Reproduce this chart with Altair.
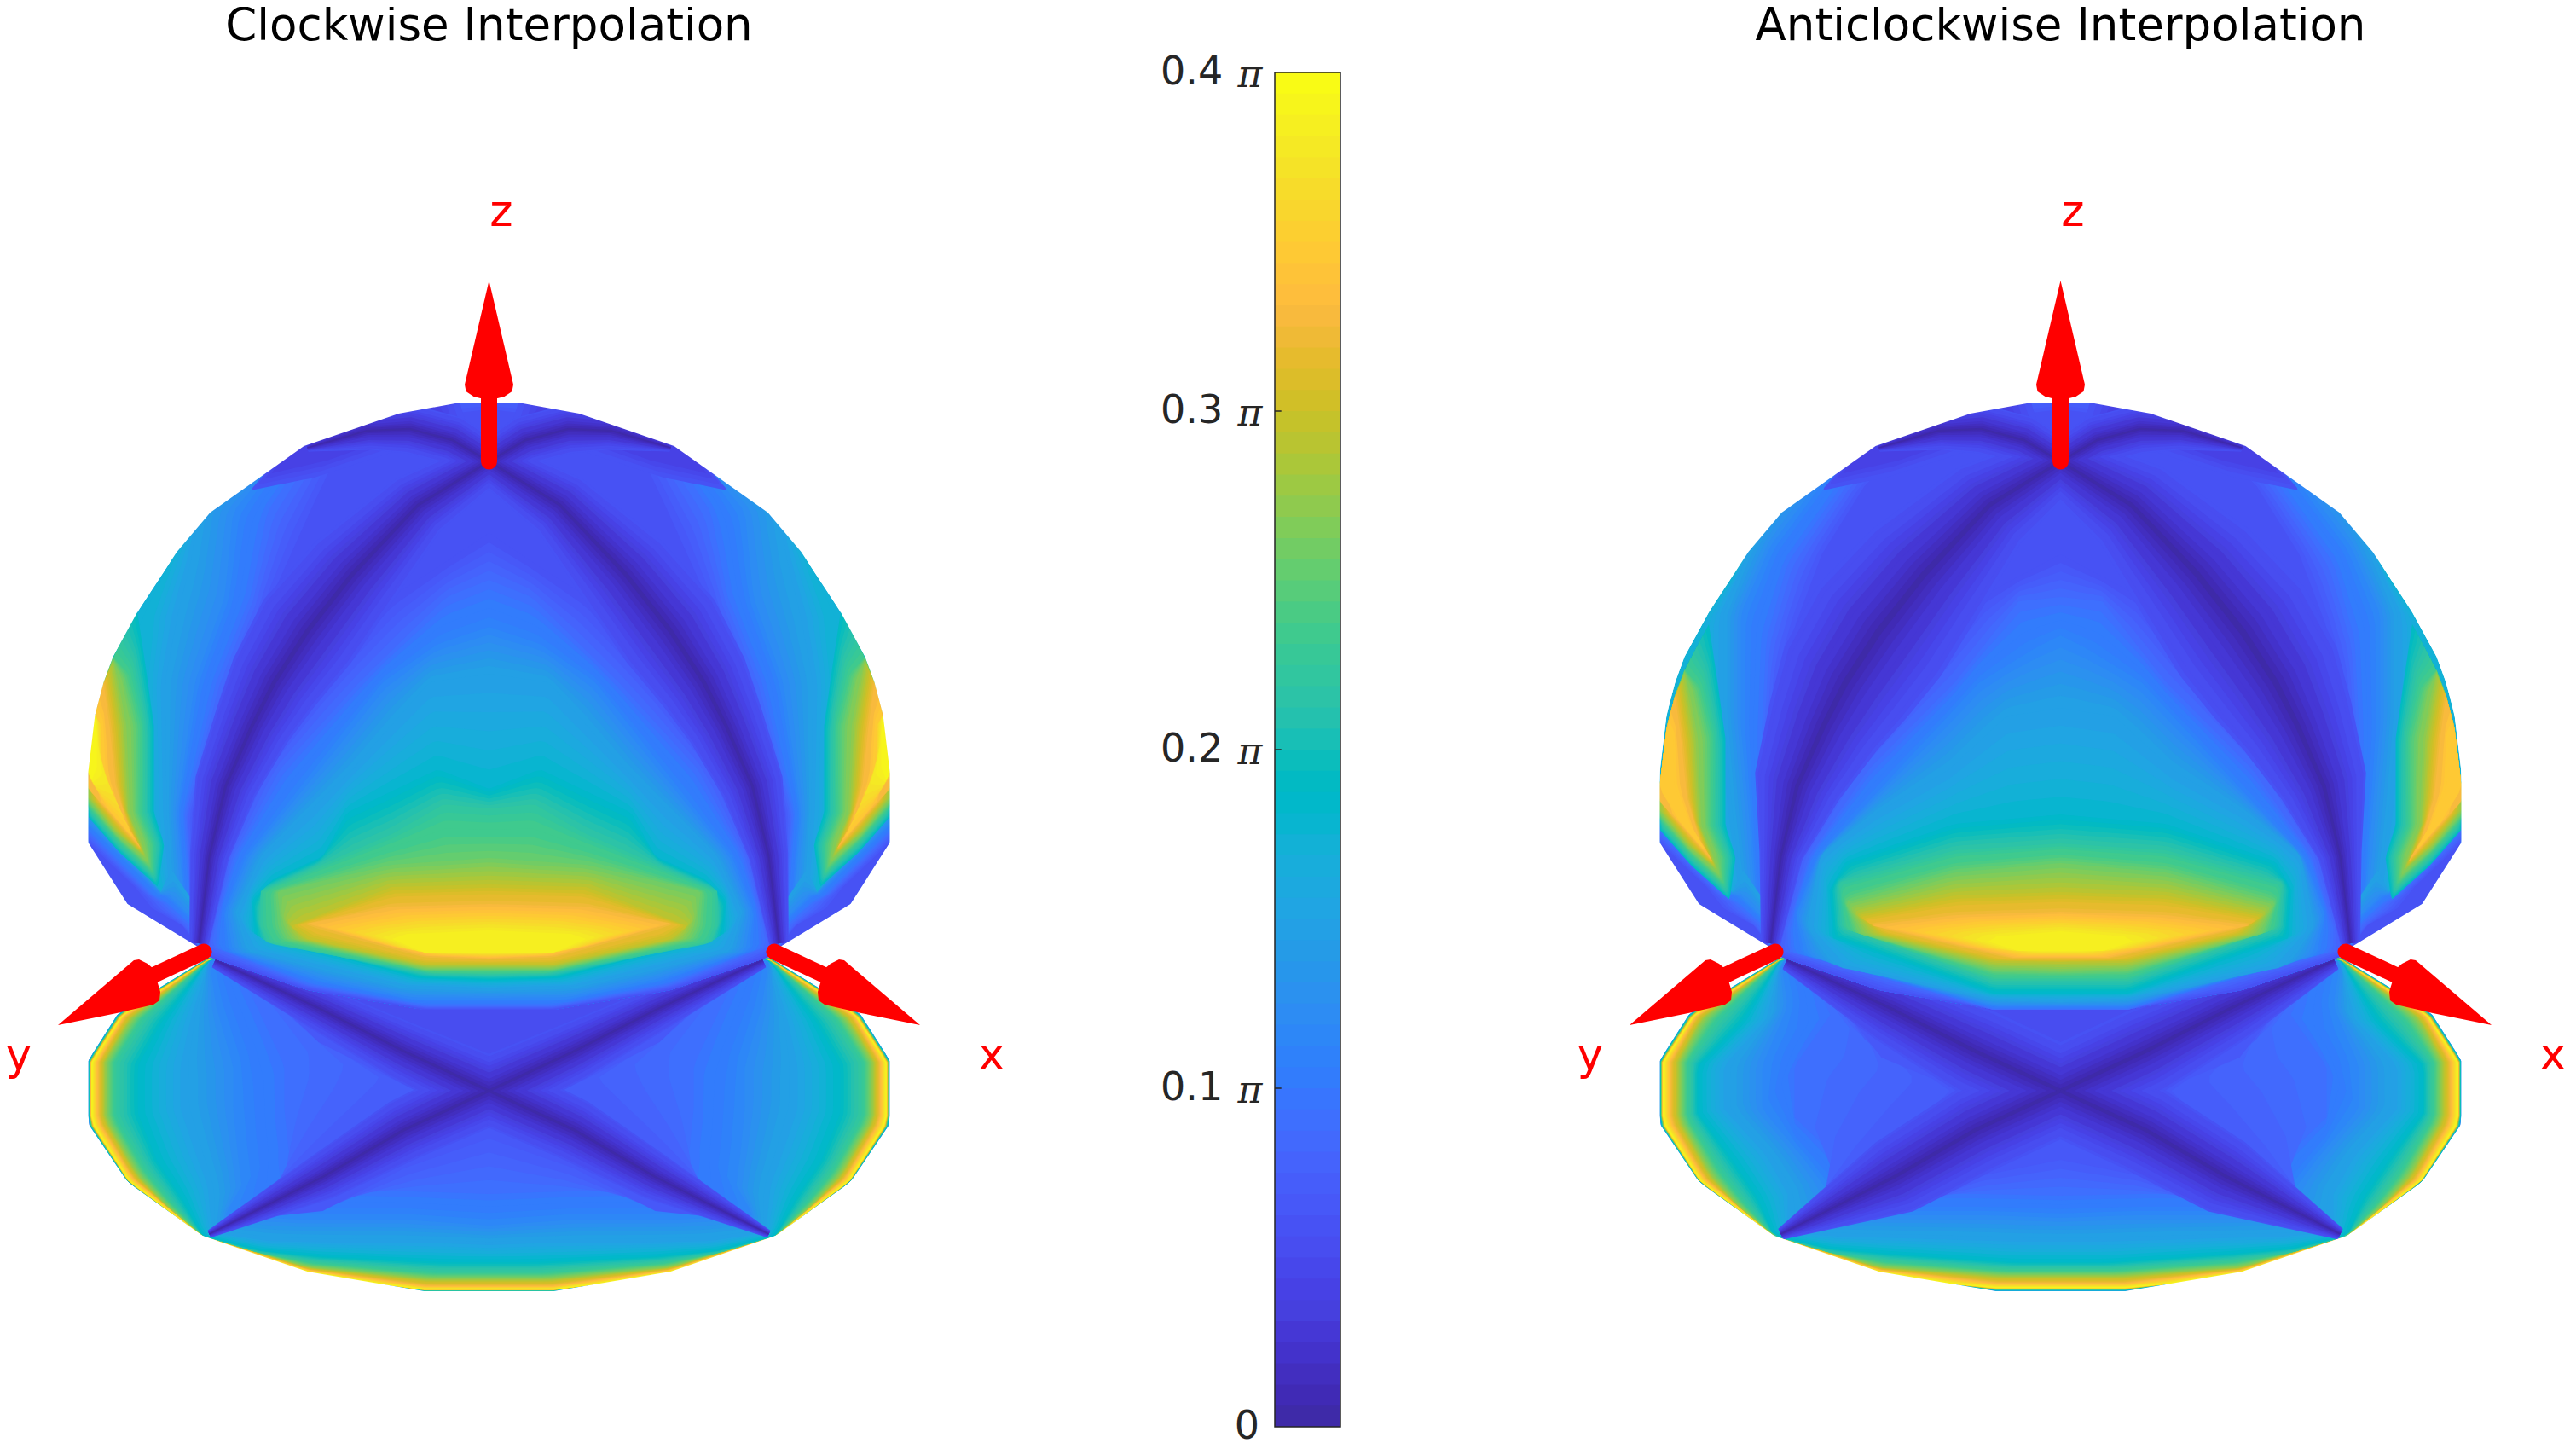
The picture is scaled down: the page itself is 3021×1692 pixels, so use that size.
import altair as alt
import math

PARULA = ["#3e2aa8","#402ab5","#422ebf","#4332cb","#4537d5","#4640de","#4741e5","#4747eb","#484df0","#4752f4","#4758f8","#465dfa","#4563fc","#4269fd","#3e6ffe","#3875fe","#327cfc","#2f81fa","#2d87f7","#2d8cf3","#2b91ef","#2796eb","#259be7","#23a0e5","#20a5e3","#1ca9df","#18addb","#12b1d6","#08b5d0","#01b8ca","#02bac3","#0bbdbc","#18bfb6","#24c1ae","#2cc3a7","#31c69f","#37c897","#3fca8e","#4acb84","#57cc7a","#64cd6f","#72cc64","#80cc59","#8fca4e","#9dc943","#abc739","#b9c431","#c5c22a","#d1bf27","#dcbd29","#e6bb2d","#efba36","#f8ba3d","#febe3c","#fec338","#fec934","#fccf30","#f9d62d","#f7dc2a","#f5e327","#f5e924","#f6ef20","#f7f51b","#f9fb15"]
TICK_VALUES = [0.0, 0.1, 0.2, 0.3, 0.4]
TITLES = ["Clockwise Interpolation", "Anticlockwise Interpolation"]
AXIS_LABELS = ["x", "y", "z"]

VIEW_TOP = 58
PAGE_BOTTOM = 1684
LEFT_W, RIGHT_W, CB_W = 1293, 1376, 77
RIGHT_VIEW_X = 1633
CX = [573.5-8, 2416.5-RIGHT_VIEW_X]
CB_TOP, CB_BOTTOM = 85, 1673
VIEW_H = PAGE_BOTTOM-VIEW_TOP

DOME = [(0,473),(39.5,473),(106,485),(217,523),(327,601),(366,647),(412,717),(441,770),(452,800),(462,838),(470,905),(470,988),(424,1060),(340,1111),(328,1122),(213,1161),(76,1184),(0,1184)]
BOWL = [(0,1120),(328,1122),(435,1188),(470,1243),(470,1318),(424,1386),(336,1449),(213,1491),(76,1514),(0,1514)]
SILHOUETTE = DOME[:15] + BOWL[2:]
RIM = [(340,1111),(328,1122),(213,1161),(76,1184),(0,1184)]
OVER = [(0,460),(39.5,460),(110,470),(226,510),(338,590)]   # top contours run past the edge; the mask trims them

BOWL_TIERS_A = [
 (0.12,BOWL),
 (0.39,[(0,1120),(328,1125),(430,1190),(466,1245),(466,1316),(422,1385),(336,1449),(213,1491),(130,1505),(76,1512),(0,1512)]),
 (0.33,[(0,1120),(328,1125),(428,1192),(459,1245),(459,1314),(418,1382),(336,1449),(213,1489),(76,1508),(0,1508)]),
 (0.27,[(0,1120),(328,1125),(420,1195),(450,1245),(450,1312),(412,1378),(378,1414),(336,1449),(213,1486),(70,1500),(0,1500)]),
 (0.22,[(0,1120),(328,1125),(405,1195),(437,1245),(437,1310),(402,1372),(372,1410),(336,1449),(270,1469),(205,1480),(65,1491),(0,1491)]),
 (0.185,[(0,1120),(328,1125),(385,1200),(412,1250),(412,1305),(390,1360),(360,1405),(336,1449),(270,1466),(200,1473),(55,1480),(0,1480)]),
 (0.15,[(0,1120),(328,1125),(350,1195),(362,1250),(362,1300),(345,1350),(330,1390),(325,1445),(260,1455),(180,1457),(50,1458),(0,1460)]),
 (0.115,[(0,1120),(328,1125),(320,1180),(300,1250),(300,1300),(295,1350),(290,1390),(310,1425),(220,1430),(100,1430),(0,1437)]),
 (0.09,[(0,1120),(300,1125),(270,1185),(240,1250),(240,1300),(235,1350),(225,1385),(240,1400),(150,1395),(0,1400)]),
 (0.065,[(0,1120),(300,1125),(200,1222),(120,1262),(85,1279),(120,1300),(195,1350),(310,1432),(195,1420),(100,1370),(0,1335)]),
]
BOWL_TIERS_B = [
 (0.12,BOWL),
 (0.39,[(0,1120),(328,1125),(430,1190),(466,1245),(466,1316),(422,1385),(336,1449),(213,1491),(130,1505),(76,1510),(0,1510)]),
 (0.33,[(0,1120),(328,1125),(428,1192),(458,1245),(458,1314),(418,1382),(336,1449),(213,1489),(76,1505),(0,1505)]),
 (0.27,[(0,1120),(328,1125),(420,1195),(447,1245),(447,1312),(410,1378),(378,1414),(336,1449),(213,1486),(70,1496),(0,1496)]),
 (0.22,[(0,1120),(328,1125),(400,1195),(435,1245),(435,1310),(398,1372),(370,1410),(336,1449),(270,1469),(205,1478),(65,1488),(0,1488)]),
 (0.185,[(0,1120),(328,1125),(375,1200),(425,1250),(425,1305),(385,1360),(355,1405),(336,1449),(270,1464),(200,1470),(55,1480),(0,1480)]),
 (0.15,[(0,1120),(328,1125),(345,1195),(395,1250),(395,1300),(345,1355),(320,1400),(320,1445),(260,1450),(180,1452),(50,1456),(0,1456)]),
 (0.115,[(0,1120),(328,1125),(320,1180),(350,1250),(350,1300),(300,1360),(270,1400),(290,1425),(200,1425),(80,1425),(0,1428)]),
 (0.09,[(0,1120),(300,1125),(270,1190),(312,1250),(312,1310),(250,1370),(190,1400),(100,1400),(0,1402)]),
 (0.065,[(0,1120),(300,1125),(210,1240),(150,1265),(130,1279),(150,1300),(210,1350),(310,1432),(200,1425),(100,1380),(0,1360)]),
]
WEDGE_TOP = [(0,1184),(213,1161),(321,1126),(200,1182),(99,1233),(0,1279)]

TIERS_A = [
 (0.175,DOME),
 (0.165,OVER+[(366,647),(392,720),(400,800),(395,950),(380,1060)]+RIM),
 (0.145,OVER+[(350,660),(365,720),(380,800),(378,953),(372,1060)]+RIM),
 (0.115,OVER[:4]+[(300,600),(310,700),(345,800),(366,953),(358,1060)]+RIM),
 (0.09,OVER[:3]+[(217,535),(260,600),(280,700),(320,800),(357,953),(350,1060)]+RIM),
 (0.06,[(0,480),(90,490),(170,515),(210,600),(255,700),(295,800),(347,953),(345,1060)]+RIM),
]
TIERS_B = [
 (0.175,DOME),
 (0.165,OVER+[(385,680),(418,729),(420,800),(405,950),(385,1060)]+RIM),
 (0.145,OVER+[(366,647),(395,720),(395,830),(385,950),(372,1060)]+RIM),
 (0.115,OVER[:4]+[(280,560),(340,640),(375,720),(375,850),(365,960),(358,1060)]+RIM),
 (0.09,OVER[:3]+[(200,530),(250,560),(320,660),(345,750),(350,850),(352,950),(350,1060)]+RIM),
 (0.06,[(0,480),(100,492),(180,520),(230,570),(280,650),(310,730),(330,800),(340,930),(345,1060)]+RIM),
]
CAP = [
 (0.058,[(35,470),(110,475),(226,512),(280,575),(205,560),(100,526),(25,503)]),
 (0.04,[(60,470),(110,478),(226,515),(255,555),(190,540),(100,508),(50,494)]),
]

LOW_WEDGE = [
 (0.15,[(470,950),(470,988),(424,1060),(340,1111),(345,1060),(372,1020),(385,1045)]),
 (0.115,[(470,965),(470,988),(424,1060),(340,1111),(345,1080),(375,1050),(385,1048)]),
 (0.09,[(470,975),(470,988),(424,1060),(340,1111),(350,1085),(378,1060),(395,1050)]),
 (0.06,[(470,988),(470,988),(424,1060),(340,1111),(360,1085),(395,1065),(415,1040)]),
]
SIDE_PATCH = [
 (0.19,[(412.5,717),(403,780),(393,851),(393,953),(381,990),(388,1040),(433,1000),(470,958),(470,905),(462,838),(452,800),(441,770)]),
 (0.24,[(441,770),(423,790),(409,851),(410,953),(395,990),(395,1022),(435,985),(470,945),(470,905),(462,838),(452,800)]),
 (0.28,[(441,775),(428,851),(423,953),(408,990),(403,1005),(438,975),(470,935),(470,905),(462,838),(452,800)]),
 (0.325,[(452,800),(445,851),(438,920),(423,970),(408,995),(443,955),(470,925),(470,905),(462,838)]),
 (0.35,[(462,838),(454,851),(453,905),(438,945),(415,985),(448,945),(467,915),(470,905)]),
 (0.39,[(462,838),(460,860),(460,900),(466,915),(470,905)]),
]

CENTRE_A = [
 (0.06,[(0,625),(60,665),(115,700),(205,800),(275,902),(312,1004),(330,1090),(345,1115),(328,1122),(213,1161),(76,1184),(0,1184)]),
 (0.09,[(0,680),(50,700),(152,800),(245,902),(300,1004),(320,1080),(325,1110),(213,1155),(76,1180),(0,1180)]),
 (0.115,[(0,735),(60,755),(125,800),(205,902),(285,1004),(310,1070),(305,1115),(200,1150),(90,1172),(0,1172)]),
 (0.15,[(0,790),(70,800),(160,902),(265,1004),(295,1070),(280,1115),(150,1145),(99,1157),(0,1160)]),
 (0.185,[(0,925),(60,902),(167,953),(195,1004),(252,1030),(278,1055),(275,1096),(83,1147),(0,1150)]),
 (0.22,[(0,948),(53,943),(114,978),(268,1045),(268,1086),(259,1106),(68,1142),(0,1143)]),
 (0.26,[(0,1006),(114,1014),(248,1045),(244,1086),(236,1101),(76,1137),(0,1137)]),
 (0.295,[(0,1037),(114,1040),(233,1086),(213,1101),(76,1131),(0,1131)]),
 (0.33,[(0,1060),(114,1063),(213,1083),(76,1121),(0,1124)]),
 (0.385,[(0,1091),(96,1095),(114,1101),(76,1117),(0,1117)]),
]
CENTRE_B = [
 (0.06,[(0,650),(94,700),(184,800),(270,902),(312,1004),(330,1090),(345,1115),(328,1122),(213,1161),(76,1184),(0,1184)]),
 (0.09,[(0,700),(49,705),(124,800),(225,902),(295,1004),(320,1088),(320,1115),(79,1184),(0,1184)]),
 (0.115,[(0,745),(30,760),(95,800),(190,902),(285,1004),(310,1073),(300,1120),(79,1180),(0,1180)]),
 (0.15,[(0,830),(64,840),(130,902),(215,953),(282,1004),(295,1088),(260,1134),(79,1172),(0,1174)]),
 (0.185,[(0,955),(124,966),(252,1010),(271,1043),(267,1100),(79,1165),(0,1165)]),
 (0.22,[(0,989),(124,997),(260,1035),(256,1088),(79,1150),(0,1150)]),
 (0.26,[(0,1012),(124,1023),(252,1058),(236,1095),(79,1138),(0,1140)]),
 (0.295,[(0,1046),(124,1050),(237,1073),(213,1095),(79,1127),(0,1128)]),
 (0.33,[(0,1069),(124,1073),(222,1085),(56,1123),(0,1123)]),
 (0.385,[(0,1092),(75,1098),(85,1104),(50,1115),(0,1115)]),
]

ARC = [(0,541),(83,592),(160,673),(213,740),(252,800),(278,851),(309,922),(328,1004),(340,1106)]
ARC_W_A = [22,35,50,55,48,40,32,20,10]
ARC_W_B = [30,50,70,78,72,60,45,22,10]
TOP_ARC = [(0,541),(43,516),(93,503),(143,505),(213,525)]
TOP_W = [22,25,25,20,4]
ARM_UP = [(0,1279),(99,1233),(200,1182),(321,1126)]
ARM_DOWN = [(0,1279),(100,1325),(195,1380),(328,1447)]
UP_W_A, DOWN_W_A = [35,30,22,8], [35,32,24,4]
UP_W_B, DOWN_W_B = [45,45,35,10], [45,45,40,6]
BAND_VALUES = [0.06, 0.05, 0.035, 0.02, 0.008, 0.003]
BAND_SHARE = [1.15, 1.0, 0.65, 0.37, 0.15, 0.05]

HEAD_Z = [(0,329),(28.5,451),(27,459),(18,465),(10,467),(0,467)]
SHAFT_Z = [(0,541),(0,460)]
HEAD_SIDE = [(505.5,1202),(416.5,1126),(410.5,1125),(400.5,1130),(393.5,1136),(385.5,1163),(386.5,1173),(393.5,1178),(436.5,1188)]
SHAFT_SIDE = [(403,1148),(334.5,1116)]
LABEL_POS = [{"x":(-589.5,1254),"y":(551.5,1254),"z":(-14.5,265)},
             {"x":(-577.5,1254),"y":(551.5,1254),"z":(-14.5,265)}]
LEVEL = 0.4/64


def at(cx, pts, sign=1):
    return [[cx - sign*d, y] for d, y in pts]

def poly(v, ring):
    return {"type":"Feature","properties":{"v":v},"geometry":{"type":"Polygon","coordinates":[ring+[ring[0]]]}}

def whole(cx, v, pts):
    return poly(v, at(cx, pts, 1) + at(cx, pts[::-1], -1))

def both(cx, v, pts):
    return [poly(v, at(cx, pts, 1)), poly(v, at(cx, pts, -1))]

def resample(pts, n=90):
    seg = [math.hypot(pts[i+1][0]-pts[i][0], pts[i+1][1]-pts[i][1]) for i in range(len(pts)-1)]
    tot = sum(seg) or 1
    out = []; i = 0; run = 0.0
    for k in range(n):
        s = tot*k/(n-1)
        while i < len(seg)-1 and run+seg[i] < s:
            run += seg[i]; i += 1
        t = (s-run)/seg[i] if seg[i] else 0
        t = min(max(t,0),1)
        out.append((pts[i][0]+(pts[i+1][0]-pts[i][0])*t, pts[i][1]+(pts[i+1][1]-pts[i][1])*t))
    return out

def shaded(tiers):
    out = []
    for (v0,p0),(v1,p1) in zip(tiers, tiers[1:]):
        a, b = resample(p0), resample(p1)
        steps = max(1, int(math.ceil(abs(v1-v0)/LEVEL)))
        for s in range(steps):
            t = s/steps
            out.append((v0+(v1-v0)*t, [(x0+(x1-x0)*t, y0+(y1-y0)*t) for (x0,y0),(x1,y1) in zip(a,b)]))
    out.append(tiers[-1])
    return out

def ribbon(path, widths, share):
    n = len(path); a, b = [], []
    for i,(d,y) in enumerate(path):
        p = path[max(i-1,0)]; q = path[min(i+1,n-1)]
        tx, ty = q[0]-p[0], q[1]-p[1]
        L = math.hypot(tx,ty)
        w = widths[i]*share
        a.append((d-ty/L*w, y+tx/L*w)); b.append((d+ty/L*w, y-tx/L*w))
    return a + b[::-1]

def band_levels(values, shares):
    out = []
    for (v0,s0),(v1,s1) in zip(zip(values,shares), zip(values[1:],shares[1:])):
        steps = max(1, int(math.ceil((v0-v1)/LEVEL)))
        for k in range(steps):
            t = k/steps
            out.append((v0+(v1-v0)*t, s0+(s1-s0)*t))
    out.append((values[-1], shares[-1]))
    return out

def surface(i, bowl, tiers, centre, arc_w, up_w, down_w, shift, peak):
    cx = CX[i]; f = []
    for v,p in shaded(bowl): f.append(whole(cx, v, p))
    f.append(whole(cx, 0.05, WEDGE_TOP))
    for v,s in band_levels(BAND_VALUES, BAND_SHARE):
        f += both(cx, v, ribbon(ARM_UP, up_w, s))
        f += both(cx, v, ribbon(ARM_DOWN, down_w, s))
    for v,p in shaded(tiers): f.append(whole(cx, v, p))
    for v,p in shaded(LOW_WEDGE): f += both(cx, v, p)
    patch = [(v,[(d,y+shift) for d,y in p]) for v,p in SIDE_PATCH if v <= peak]
    for v,p in shaded(patch): f += both(cx, v, p)
    for v,p in shaded(centre): f.append(whole(cx, v, p))
    for v,p in shaded(CAP): f += both(cx, v, p)
    for v,s in band_levels(BAND_VALUES, BAND_SHARE):
        f += both(cx, v, ribbon(ARC, arc_w, s))
        f += both(cx, v, ribbon(TOP_ARC, TOP_W, s))
    return f

def panel(i, feats, width):
    cx = CX[i]
    proj = dict(type="identity", scale=1, translate=[0, -VIEW_TOP])
    color = alt.Color("properties.v:Q", legend=None,
                      scale=alt.Scale(type="quantize", domain=[0,0.4], range=PARULA))
    surf = alt.Chart(alt.Data(values=feats)).mark_geoshape(strokeWidth=0).encode(color=color).project(**proj)
    hole = at(cx, SILHOUETTE, 1) + at(cx, SILHOUETTE[::-1], -1)
    box = [[0,VIEW_TOP],[width,VIEW_TOP],[width,PAGE_BOTTOM],[0,PAGE_BOTTOM]]
    mask_feat = {"type":"Feature","properties":{},"geometry":{"type":"Polygon","coordinates":[box+[box[0]], hole+[hole[0]]]}}
    mask = alt.Chart(alt.Data(values=[mask_feat])).mark_geoshape(fill="#ffffff", strokeWidth=0).project(**proj)
    heads = [whole(cx, 1, HEAD_Z)] + both(cx, 1, HEAD_SIDE)
    head = alt.Chart(alt.Data(values=heads)).mark_geoshape(fill="#ff0000", strokeWidth=0).project(**proj)
    shafts = []
    for s in (1,-1):
        shafts.append({"type":"Feature","properties":{},"geometry":{"type":"LineString","coordinates":at(cx,SHAFT_SIDE,s)}})
    shafts.append({"type":"Feature","properties":{},"geometry":{"type":"LineString","coordinates":at(cx,SHAFT_Z)}})
    shaft = alt.Chart(alt.Data(values=shafts)).mark_geoshape(filled=False, stroke="#ff0000", strokeWidth=19, strokeCap="round").project(**proj)
    rows = [{"t":t,"lon":cx-LABEL_POS[i][t][0],"lat":LABEL_POS[i][t][1]} for t in AXIS_LABELS]
    labels = alt.Chart(alt.Data(values=rows)).mark_text(font="DejaVu Sans", fontSize=52, color="#ff0000", baseline="alphabetic").encode(
        longitude="lon:Q", latitude="lat:Q", text="t:N").project(**proj)
    return alt.layer(surf, mask, shaft, head, labels).properties(
        width=width, height=VIEW_H,
        title=alt.TitleParams(TITLES[i], font="DejaVu Sans", fontSize=53, fontWeight="normal", color="#000000",
                              anchor="middle", frame="group", offset=0, dx=cx-width/2))

left_feats = surface(0, BOWL_TIERS_A, TIERS_A, CENTRE_A, ARC_W_A, UP_W_A, DOWN_W_A, 0, 0.4)
right_feats = surface(1, BOWL_TIERS_B, TIERS_B, CENTRE_B, ARC_W_B, UP_W_B, DOWN_W_B, 15, 0.37)

# colourbar
PX = (CB_BOTTOM-CB_TOP)/0.4
y_scale = alt.Scale(domain=[-(PAGE_BOTTOM-CB_BOTTOM)/PX, (CB_BOTTOM-VIEW_TOP)/PX], nice=False, zero=False)
x_scale = alt.Scale(domain=[0,1], nice=False)
cb_rows = [{"a":k*LEVEL,"b":min((k+1.1)*LEVEL,0.4),"m":(k+0.5)*LEVEL,"x0":0,"x1":1} for k in range(64)]
bar = alt.Chart(alt.Data(values=cb_rows)).mark_rect(strokeWidth=0).encode(
    x=alt.X("x0:Q", scale=x_scale, axis=None), x2="x1:Q",
    y=alt.Y("a:Q", scale=y_scale, axis=None), y2="b:Q",
    color=alt.Color("m:Q", legend=None, scale=alt.Scale(type="quantize", domain=[0,0.4], range=PARULA)))
frame = alt.Chart(alt.Data(values=[{"a":0,"b":0.4,"x0":0,"x1":1}])).mark_rect(fill=None, stroke="#262626", strokeWidth=1.5).encode(
    x=alt.X("x0:Q", scale=x_scale, axis=None), x2="x1:Q", y=alt.Y("a:Q", scale=y_scale, axis=None), y2="b:Q")
tick_rows = [{"v":v,"x0":0,"x1":0.1} for v in TICK_VALUES[1:4]]
ticks = alt.Chart(alt.Data(values=tick_rows)).mark_rule(color="#262626", strokeWidth=1.5).encode(
    x=alt.X("x0:Q", scale=x_scale, axis=None), x2="x1:Q", y=alt.Y("v:Q", scale=y_scale, axis=None))
num_rows = [{"v":v,"s":f"{v:.1f}","x":-0.79} for v in TICK_VALUES[1:]]
nums = alt.Chart(alt.Data(values=num_rows)).mark_text(font="DejaVu Sans", fontSize=46, color="#262626", align="right", baseline="middle").encode(
    x=alt.X("x:Q", scale=x_scale, axis=None), y=alt.Y("v:Q", scale=y_scale, axis=None), text="s:N")
zero = alt.Chart(alt.Data(values=[{"v":0.0,"s":"0","x":-0.234}])).mark_text(font="DejaVu Sans", fontSize=46, color="#262626", align="right", baseline="middle").encode(
    x=alt.X("x:Q", scale=x_scale, axis=None), y=alt.Y("v:Q", scale=y_scale, axis=None), text="s:N")
pi_rows = [{"v":v,"s":"\u03c0","x":-0.377} for v in TICK_VALUES[1:]]
pis = alt.Chart(alt.Data(values=pi_rows)).mark_text(font="DejaVu Serif", fontStyle="italic", fontSize=44, color="#262626", align="center", baseline="alphabetic", dy=17).encode(
    x=alt.X("x:Q", scale=x_scale, axis=None), y=alt.Y("v:Q", scale=y_scale, axis=None), text="s:N")
cbar = alt.layer(bar, frame, ticks, nums, zero, pis).properties(width=CB_W, height=VIEW_H)

chart = alt.hconcat(panel(0, left_feats, LEFT_W), cbar, panel(1, right_feats, RIGHT_W), spacing=60).properties(
    padding={"left":0,"right":0,"top":-3,"bottom":0}).resolve_scale(color="independent").configure_view(stroke=None)
chart.save("out.html", embed_options={"renderer":"svg","actions":False})
